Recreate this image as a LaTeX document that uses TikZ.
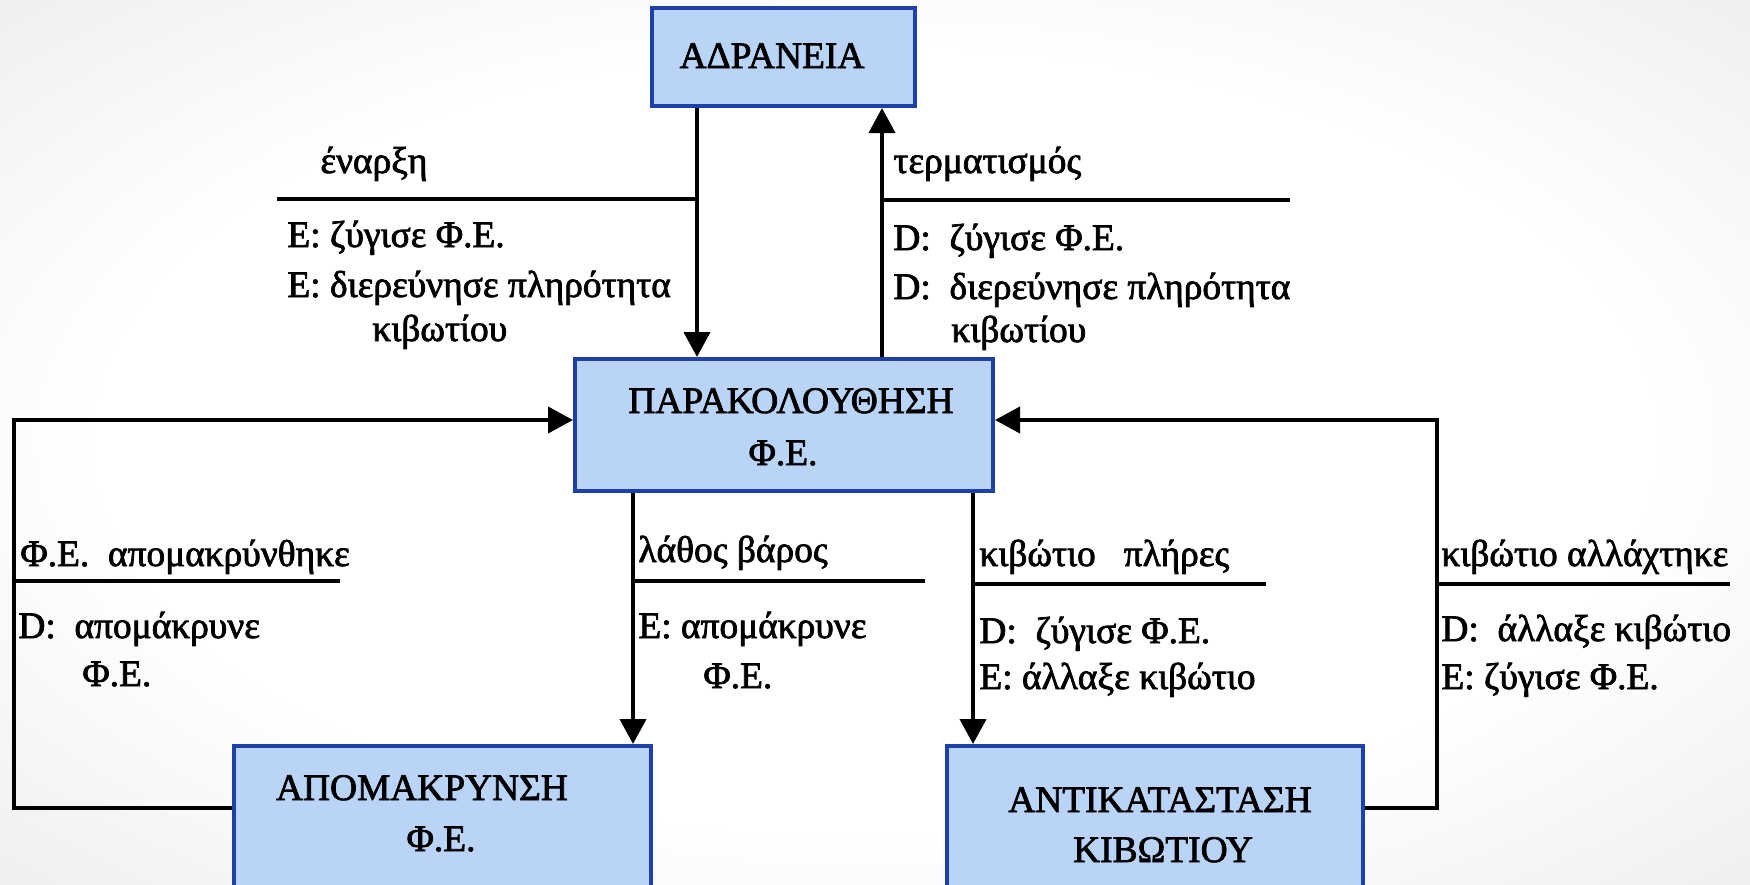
\documentclass[tikz,border=0pt]{standalone}
\usepackage{fontspec}
\setmainfont{Liberation Serif}[FakeBold=2]
\usetikzlibrary{arrows.meta,calc}
\definecolor{boxfill}{HTML}{B9D4F7}
\definecolor{boxline}{HTML}{1F40A8}
% soft paper background: white centre, grey towards the edges
\pgfdeclareradialshading{paper}{\pgfpoint{0bp}{0bp}}{%
  color(0bp)=(white); color(22bp)=(white); color(50bp)=(black!13); color(72bp)=(black!18)}
\begin{document}
\begin{tikzpicture}[x=0.5pt,y=-0.5pt,
  state/.style={draw=boxline, fill=boxfill, line width=2pt, inner sep=0pt},
  lbl/.style={anchor=base west, inner sep=0pt, font=\fontsize{18.7}{22}\selectfont},
  title/.style={anchor=base, inner sep=0pt, font=\fontsize{18.7}{22}\selectfont},
  link/.style={line width=2pt, -{Triangle[length=12.5pt,width=13pt]}},
  rule/.style={line width=2pt}]

% page and background
\useasboundingbox (0,0) rectangle (1750,884);
\shade[shading=paper] (0,0) rectangle (1750,884);

% states
\node[state, minimum width=131.5pt, minimum height=49pt] (adr) at (783.5,57) {};
\node[state, minimum width=209pt, minimum height=66pt] (par) at (784,425) {};
\node[state, minimum width=208.5pt, minimum height=87pt] (apom) at (442.5,833) {};
\node[state, minimum width=208pt, minimum height=87pt] (anti) at (1155,833) {};

% state names
\node[title] (adrT) at (772,68) {ΑΔΡΑΝΕΙΑ};
\node[title] (parT1) at (791,413) {ΠΑΡΑΚΟΛΟΥΘΗΣΗ};
\node[title] (parT2) at (783,465) {Φ.Ε.};
\node[title] (apomT1) at (422,800) {ΑΠΟΜΑΚΡΥΝΣΗ};
\node[title] (apomT2) at (441,851) {Φ.Ε.};
\node[title] (antiT1) at (1160,812) {ΑΝΤΙΚΑΤΑΣΤΑΣΗ};
\node[title] (antiT2) at (1163,862) {ΚΙΒΩΤΙΟΥ};

% columns and rows used by the connectors
\coordinate (xa) at (697,0);
\coordinate (xb) at (882,0);
\coordinate (xc) at (633,0);
\coordinate (xd) at (973,0);
\coordinate (lx) at (14,0);
\coordinate (rx) at (1437,0);
\coordinate (ly) at (0,808);
\coordinate (ry) at (0,420);

% transitions
\draw[link] (adr.south -| xa) -- (par.north -| xa);
\draw[link] (par.north -| xb) -- (adr.south -| xb);
\draw[link] (par.south -| xc) -- (apom.north -| xc);
\draw[link] (par.south -| xd) -- (anti.north -| xd);
\draw[link] (apom.west |- ly) -| (lx |- ry) -- (par.west |- ry);
\draw[link] (anti.east |- ly) -| (rx |- ry) -- (par.east |- ry);

% event / action separators
\coordinate (r1) at (277,199);
\coordinate (r2) at (1290,200);
\coordinate (r3) at (340,581);
\coordinate (r4) at (925,581);
\coordinate (r5) at (1266,584);
\coordinate (r6) at (1730,584);
\draw[rule] (r1) -- (r1 -| xa);
\draw[rule] (xb |- r2) -- (r2);
\draw[rule] (lx |- r3) -- (r3);
\draw[rule] (xc |- r4) -- (r4);
\draw[rule] (xd |- r5) -- (r5);
\draw[rule] (rx |- r6) -- (r6);

% labels of the upper transitions
\node[lbl] (t1) at (320,173) {έναρξη};
\node[lbl] (t2) at (287,247) {Ε: ζύγισε Φ.Ε.};
\node[lbl] (t3) at (287,297) {Ε: διερεύνησε πληρότητα};
\node[lbl] (t4) at (372,341) {κιβωτίου};
\node[lbl] (t5) at (893,173) {τερματισμός};
\node[lbl] (t6) at (893,250) {D:\ \ ζύγισε Φ.Ε.};
\node[lbl] (t7) at (893,299) {D:\ \ διερεύνησε πληρότητα};
\node[lbl] (t8) at (951,342) {κιβωτίου};

% labels of the lower transitions
\node[lbl] (b1) at (20,566) {Φ.Ε.\ \ απομακρύνθηκε};
\node[lbl] (b2) at (18,638) {D:\ \ απομάκρυνε};
\node[lbl] (b3) at (82,686) {Φ.Ε.};
\node[lbl] (b4) at (638,562) {λάθος βάρος};
\node[lbl] (b5) at (638,638) {Ε: απομάκρυνε};
\node[lbl] (b6) at (703,688) {Φ.Ε.};
\node[lbl] (b7) at (979,566) {κιβώτιο\ \ \ πλήρες};
\node[lbl] (b8) at (979,643) {D:\ \ ζύγισε Φ.Ε.};
\node[lbl] (b9) at (979,689) {Ε: άλλαξε κιβώτιο};
\node[lbl] (b10) at (1441,566) {κιβώτιο αλλάχτηκε};
\node[lbl] (b11) at (1441,641) {D:\ \ άλλαξε κιβώτιο};
\node[lbl] (b12) at (1441,689) {Ε: ζύγισε Φ.Ε.};
\end{tikzpicture}
\end{document}
